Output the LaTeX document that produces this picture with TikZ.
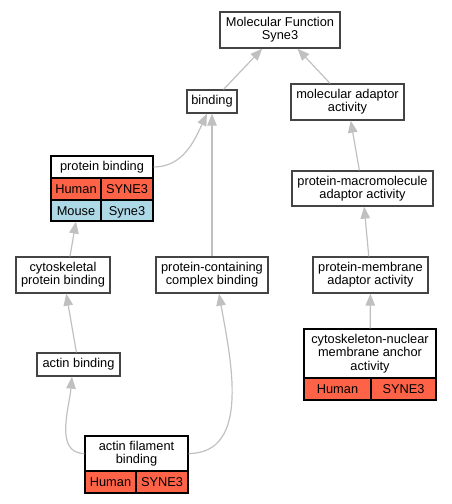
\documentclass[tikz,border=0pt]{standalone}
\usepackage{fontspec}
\setmainfont{Liberation Sans}
\usetikzlibrary{arrows.meta}
\definecolor{humred}{RGB}{255,99,71}
\definecolor{mouseblue}{RGB}{173,216,230}
\definecolor{edgegray}{RGB}{192,192,192}
\definecolor{boxgray}{RGB}{68,68,68}
\tikzset{
  >={Triangle[length=12pt,width=9.5pt]},
  term/.style={draw=boxgray,line width=1.3pt,fill=white,align=center,inner sep=0pt,font=\fontsize{12.8}{13.3}\selectfont},
  tcell/.style={draw=black,line width=1.1pt,fill=white,align=center,inner sep=0pt,font=\fontsize{12.8}{13.3}\selectfont},
  hcell/.style={tcell,fill=humred,minimum height=22pt,text height=9.2pt,text depth=0pt},
  mcell/.style={tcell,fill=mouseblue,minimum height=21pt,text height=9.2pt,text depth=0pt},
  isa/.style={draw=edgegray,line width=1.2pt,->},
}
\begin{document}
\begin{tikzpicture}[x=1pt,y=-1pt]
\useasboundingbox (0,0) rectangle (451,504);
\node[term,minimum width=120pt,minimum height=36pt] (mf) at (280,30) {Molecular Function\\Syne3};
\node[term,minimum width=50pt,minimum height=23pt] (bind) at (212,101.5) {binding};
\node[term,minimum width=113pt,minimum height=36pt] (madapt) at (347.5,102) {molecular adaptor\\activity};
\node[tcell,minimum width=102pt,minimum height=22pt] (pbind) at (102,167) {protein binding};
\node[hcell,minimum width=50pt] (pbindH) at (76,189) {Human}; \node[hcell,minimum width=52pt] (pbindHg) at (127,189) {SYNE3};
\node[mcell,minimum width=50pt] (pbindM) at (76,210.5) {Mouse}; \node[mcell,minimum width=52pt] (pbindMg) at (127,210.5) {Syne3};
\node[term,minimum width=141pt,minimum height=35pt] (pmacro) at (362.5,188.5) {protein-macromolecule\\adaptor activity};
\node[term,minimum width=94pt,minimum height=36pt] (cytprot) at (63,275) {cytoskeletal\\protein binding};
\node[term,minimum width=112pt,minimum height=36pt] (pcomplex) at (212,275) {protein-containing\\complex binding};
\node[term,minimum width=115pt,minimum height=36pt] (pmemb) at (370.5,275) {protein-membrane\\adaptor activity};
\node[term,minimum width=83pt,minimum height=23pt] (actin) at (78.5,364.5) {actin binding};
\node[tcell,minimum width=132pt,minimum height=49pt] (cnmaa) at (370,353.5) {cytoskeleton-nuclear\\membrane anchor\\activity};
\node[hcell,minimum width=67pt] (cnmaaH) at (337.5,389) {Human}; \node[hcell,minimum width=65pt] (cnmaaHg) at (403.5,389) {SYNE3};
\node[tcell,minimum width=103pt,minimum height=35pt] (afb) at (136.5,453.5) {actin filament\\binding};
\node[hcell,minimum width=51pt] (afbH) at (110.5,482) {Human}; \node[hcell,minimum width=52pt] (afbHg) at (162,482) {SYNE3};
\draw[isa] (bind) -- (mf); \draw[isa] (madapt) -- (mf);
\draw[isa] (pbind.east) to[out=0,in=-115] ([xshift=-5pt]bind.south);
\draw[isa] (pcomplex) -- (bind); \draw[isa] (pmacro) -- (madapt);
\draw[isa] ([xshift=7pt]cytprot.north) -- (pbindM.south);
\draw[isa] (pmemb) -- (pmacro); \draw[isa] (actin) -- (cytprot); \draw[isa] (cnmaa) -- (pmemb);
\draw[isa] (afb.west) to[out=180,in=-95] ([xshift=-6.5pt]actin.south);
\draw[isa] (afb.east) to[out=0,in=-80] ([xshift=7pt]pcomplex.south);
\end{tikzpicture}
\end{document}
